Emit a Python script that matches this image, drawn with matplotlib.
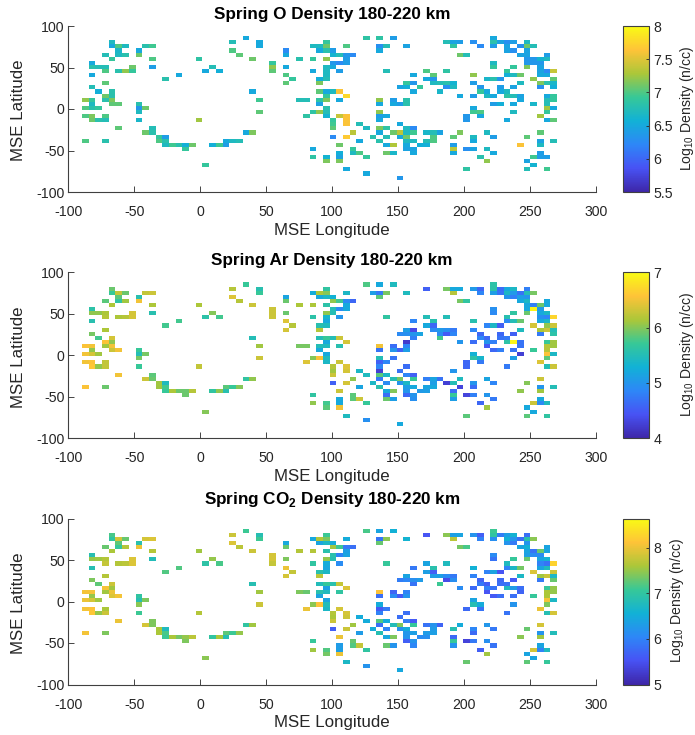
import numpy as np
import matplotlib
matplotlib.use('Agg')
import matplotlib.pyplot as plt
from matplotlib.colors import LinearSegmentedColormap

plt.rcParams['font.family'] = ['Liberation Sans', 'DejaVu Sans']
plt.rcParams['mathtext.fontset'] = 'custom'
plt.rcParams['mathtext.rm'] = 'Liberation Sans'
plt.rcParams['mathtext.bf'] = 'Liberation Sans:bold'
plt.rcParams['axes.unicode_minus'] = False

# {row: {column: log10 density}}, row -1 is the northernmost bin
o_density = {
    -1: {24: 6.5, 42: 6.85, 44: 6.85, 46: 6.4, 61: 6.5},
    0: {4: 6.7, 22: 6.75, 26: 6.5, 36: 6.9, 54: 6.75, 55: 6.45, 56: 6.4, 58: 6.3, 61: 6.8, 62: 6.45, 63: 6.3, 64: 6.4, 66: 6.7},
    1: {4: 6.5, 5: 7.0, 6: 6.7, 9: 6.8, 10: 6.95, 26: 6.5, 34: 6.7, 35: 6.7, 36: 7.1, 39: 7.0, 44: 6.3, 45: 6.75, 48: 6.45, 55: 6.85, 59: 6.25, 61: 6.4, 63: 6.45, 65: 6.3, 66: 7.1, 67: 6.75},
    2: {5: 6.65, 8: 6.5, 22: 7.0, 30: 6.25, 35: 6.5, 36: 6.8, 37: 6.4, 44: 6.5, 63: 6.45, 64: 6.3, 66: 6.45},
    3: {3: 6.75, 5: 6.7, 6: 6.8, 8: 7.1, 23: 7.05, 30: 6.5, 37: 6.6, 38: 6.75, 39: 6.35, 40: 6.25, 56: 7.1, 57: 6.75, 65: 6.45, 66: 6.45, 69: 6.4},
    4: {4: 6.9, 10: 7.0, 17: 6.85, 25: 7.1, 32: 6.8, 34: 6.9, 36: 7.2, 39: 6.4, 66: 6.35, 67: 6.35, 68: 6.6, 69: 6.7},
    5: {1: 6.5, 28: 6.9, 37: 6.35, 38: 6.25, 39: 6.4, 61: 6.7, 66: 6.35, 67: 6.35, 68: 6.35},
    6: {1: 6.8, 2: 6.75, 3: 6.75, 7: 7.1, 10: 6.4, 19: 6.75, 28: 7.2, 30: 6.5, 36: 6.7, 37: 6.5, 61: 6.9, 64: 6.9, 66: 7.15, 68: 6.45},
    7: {3: 7.0, 5: 6.8, 6: 7.2, 7: 6.9, 18: 6.5, 20: 6.55, 28: 7.05, 34: 6.5, 36: 6.7, 38: 6.4, 45: 6.75, 51: 7.0, 54: 6.85, 63: 6.9, 68: 6.45, 69: 6.25, 70: 7.4},
    8: {1: 6.5, 14: 6.5, 30: 7.0, 36: 6.7, 49: 6.5, 52: 7.05, 58: 7.2, 63: 6.55, 64: 6.7, 65: 7.1, 68: 6.5, 69: 6.5},
    9: {12: 6.8, 31: 6.9, 35: 6.55, 36: 6.75, 51: 6.5, 52: 6.35, 60: 6.65, 61: 6.8, 62: 6.35, 67: 7.2, 70: 7.05},
    10: {3: 7.05, 30: 7.05, 35: 7.15, 48: 6.9, 49: 6.35, 52: 6.7, 53: 6.75, 54: 6.8, 55: 6.6, 58: 6.4, 65: 6.7, 68: 7.15, 69: 6.8, 70: 6.65},
    11: {1: 6.75, 47: 6.45, 48: 6.55, 50: 6.9, 54: 6.3, 55: 6.7, 59: 6.35, 62: 6.4, 64: 6.45, 68: 6.3, 70: 6.55},
    12: {2: 6.55, 4: 6.8, 25: 6.5, 35: 7.05, 36: 6.5, 37: 6.7, 38: 7.62, 49: 6.5, 53: 6.65, 59: 6.9, 60: 6.5, 62: 6.5, 63: 6.7},
    13: {3: 7.1, 4: 6.8, 36: 6.9, 39: 7.78, 56: 6.5, 58: 6.4, 60: 6.7, 61: 6.5, 63: 6.85, 64: 6.75, 65: 6.45, 69: 6.5, 70: 6.9},
    14: {0: 7.2, 1: 6.9, 3: 6.8, 4: 7.15, 26: 6.95, 32: 6.75, 33: 6.75, 35: 6.85, 36: 7.15, 38: 6.5, 44: 7.2, 46: 6.4, 48: 6.8, 65: 6.5, 69: 6.75, 70: 6.9},
    15: {1: 6.7, 4: 7.05, 5: 7.05, 8: 6.8, 35: 6.45, 44: 6.5, 46: 6.5, 47: 6.4, 48: 6.8, 61: 6.4, 62: 6.55, 64: 6.5, 67: 6.65, 69: 6.75},
    16: {0: 7.0, 1: 6.8, 2: 6.9, 8: 6.35, 9: 7.1, 36: 6.8, 58: 6.5, 69: 7.25, 70: 6.5},
    17: {8: 6.7, 26: 7.05, 34: 6.85, 35: 7.2, 36: 6.75, 44: 7.2, 58: 6.95, 59: 7.0, 64: 6.7, 69: 6.9},
    18: {0: 7.0, 1: 7.15, 3: 7.0, 33: 6.85, 36: 6.6, 38: 7.4, 39: 7.62, 44: 6.4, 45: 6.5, 57: 6.35, 59: 6.5, 68: 7.25},
    19: {1: 7.1, 2: 6.8, 3: 6.75, 8: 6.65, 17: 7.25, 37: 6.9, 39: 7.62, 44: 6.5, 57: 6.35, 63: 6.5, 69: 6.5, 70: 7.05},
    20: {37: 6.95, 39: 7.62, 41: 6.75, 47: 6.5},
    21: {5: 7.05, 10: 6.75, 37: 7.05, 42: 6.7, 44: 7.15, 45: 6.85, 48: 6.7, 49: 6.25},
    22: {9: 7.1, 10: 6.8, 24: 6.5, 25: 7.15, 40: 7.35, 44: 6.5, 46: 7.1, 47: 7.35, 48: 6.7, 49: 6.95, 51: 6.65, 52: 6.75, 53: 6.45, 56: 7.15, 60: 6.7, 68: 7.05},
    23: {11: 6.9, 12: 6.4, 37: 6.25, 39: 7.68, 43: 6.8, 45: 6.75, 47: 6.5, 48: 7.1, 52: 7.0, 55: 7.05, 58: 6.7, 61: 6.4, 66: 7.05},
    24: {0: 7.0, 3: 6.8, 11: 7.0, 12: 6.8, 21: 6.5, 22: 6.7, 23: 6.75, 41: 6.5, 44: 6.8, 48: 6.7, 49: 6.7, 51: 6.75, 52: 7.0, 58: 6.5, 68: 6.45, 70: 6.75},
    25: {12: 6.7, 13: 6.95, 14: 6.8, 15: 6.55, 16: 7.1, 19: 6.55, 20: 6.95, 21: 6.4, 38: 7.1, 45: 6.5, 46: 7.3, 48: 6.5, 50: 6.55, 51: 6.55, 55: 6.4, 65: 7.62, 68: 6.7},
    26: {15: 6.9, 34: 6.5, 40: 6.9, 48: 6.45, 49: 6.45, 55: 7.35, 57: 6.3, 58: 6.45, 60: 6.7},
    27: {38: 6.55, 40: 6.7, 41: 7.0, 45: 7.1, 46: 6.65, 49: 6.5, 55: 6.5, 61: 6.5, 68: 6.4},
    28: {34: 6.85, 36: 6.6, 38: 6.45, 42: 6.9, 59: 6.8, 67: 6.95, 68: 6.4, 69: 6.4},
    29: {36: 7.15, 38: 7.15, 60: 7.2, 66: 6.45},
    30: {18: 6.9, 67: 6.6},
    31: {39: 6.5, 57: 6.85, 66: 6.75, 69: 6.95},
    32: {42: 6.5},
    33: {47: 6.35},
}

ar_density = {
    -1: {24: 5.7, 42: 5.8, 44: 5.2, 46: 5.45, 61: 5.6},
    0: {4: 5.9, 22: 6.2, 26: 5.55, 36: 5.65, 51: 4.55, 54: 5.95, 55: 5.2, 56: 5.2, 58: 5.05, 59: 4.6, 61: 5.6, 62: 4.65, 63: 5.2, 64: 5.4, 66: 4.8},
    1: {4: 5.7, 5: 6.25, 6: 5.9, 9: 6.25, 10: 6.3, 26: 5.7, 34: 5.25, 35: 6.15, 36: 6.0, 39: 5.4, 43: 5.1, 44: 4.75, 45: 5.95, 48: 5.45, 55: 6.2, 59: 4.85, 61: 5.1, 62: 4.7, 63: 5.4, 64: 5.05, 65: 4.7, 66: 5.5, 67: 5.95},
    2: {5: 5.85, 8: 5.55, 22: 6.4, 30: 5.15, 35: 5.2, 36: 5.4, 37: 5.3, 44: 5.85, 63: 5.0, 64: 4.8, 65: 5.1, 66: 5.0},
    3: {3: 5.85, 5: 5.65, 6: 6.1, 8: 6.5, 23: 6.2, 30: 5.9, 37: 6.05, 38: 5.75, 39: 4.9, 40: 4.6, 56: 5.95, 57: 5.65, 65: 5.2, 66: 5.4, 69: 5.2},
    4: {4: 6.15, 10: 6.15, 17: 6.15, 25: 6.3, 32: 6.15, 34: 6.15, 36: 5.6, 39: 5.2, 66: 5.2, 67: 4.8, 68: 5.9, 69: 5.2},
    5: {1: 5.6, 28: 6.3, 37: 5.5, 38: 4.9, 39: 5.2, 61: 4.95, 66: 5.2, 67: 6.95, 68: 5.05},
    6: {1: 6.05, 2: 6.05, 3: 6.15, 7: 6.35, 10: 5.55, 19: 6.0, 28: 6.3, 30: 5.9, 36: 6.05, 37: 5.5, 61: 4.9, 64: 5.65, 66: 5.9, 68: 5.2, 69: 5.4},
    7: {3: 6.2, 5: 6.15, 6: 6.2, 7: 6.35, 18: 5.6, 20: 5.75, 28: 6.3, 34: 5.6, 36: 5.35, 38: 5.0, 45: 5.65, 51: 5.5, 54: 5.5, 63: 5.55, 68: 4.95, 69: 4.85, 70: 6.7},
    8: {1: 5.55, 14: 5.75, 30: 6.4, 36: 5.2, 49: 4.85, 52: 5.55, 58: 5.55, 63: 4.9, 64: 5.5, 65: 5.9, 68: 5.2, 69: 5.4},
    9: {12: 5.75, 31: 6.2, 35: 5.55, 36: 5.45, 51: 5.2, 52: 4.6, 60: 4.85, 61: 5.4, 62: 4.55, 67: 6.35, 69: 6.05, 70: 6.3},
    10: {3: 6.15, 30: 6.35, 35: 6.2, 48: 5.1, 49: 4.35, 52: 4.9, 53: 5.05, 54: 4.95, 55: 4.75, 58: 4.85, 65: 5.45, 68: 6.15, 69: 6.3, 70: 5.5},
    11: {1: 5.95, 47: 4.9, 48: 4.95, 49: 5.0, 50: 5.15, 53: 4.9, 54: 4.5, 55: 4.85, 59: 4.6, 62: 4.6, 64: 4.55, 68: 4.75, 70: 5.6},
    12: {2: 5.75, 4: 6.35, 25: 5.5, 35: 5.5, 36: 5.7, 37: 5.5, 38: 6.3, 49: 4.8, 53: 5.75, 59: 4.85, 60: 4.6, 62: 4.7, 63: 4.75},
    13: {3: 6.55, 4: 6.05, 36: 5.2, 39: 6.35, 48: 4.2, 56: 5.0, 58: 4.65, 60: 5.0, 61: 4.8, 63: 5.6, 64: 6.95, 65: 4.7, 69: 5.7, 70: 6.1},
    14: {0: 6.55, 1: 6.5, 3: 6.1, 4: 6.5, 26: 6.1, 32: 5.95, 33: 5.95, 35: 5.5, 36: 5.45, 38: 5.55, 44: 6.5, 46: 4.65, 48: 4.85, 60: 4.5, 65: 4.7, 69: 6.2, 70: 6.1},
    15: {1: 6.05, 4: 6.3, 5: 6.5, 8: 5.7, 35: 5.2, 44: 4.7, 46: 5.0, 47: 4.55, 48: 5.1, 61: 4.6, 62: 4.8, 64: 4.7, 67: 5.7, 69: 6.2},
    16: {0: 6.5, 1: 6.35, 2: 6.1, 8: 5.5, 9: 5.95, 36: 5.2, 58: 5.3, 65: 4.25, 69: 6.55, 70: 5.4},
    17: {8: 5.95, 26: 6.3, 34: 6.0, 35: 6.55, 36: 5.45, 44: 5.5, 46: 4.7, 58: 5.6, 59: 5.35, 64: 5.1, 69: 5.85},
    18: {0: 6.5, 1: 6.55, 3: 6.25, 33: 6.4, 36: 5.4, 38: 6.3, 44: 4.55, 45: 4.85, 57: 4.6, 59: 4.75, 68: 6.4},
    19: {1: 6.6, 2: 6.05, 3: 6.25, 8: 5.7, 17: 6.25, 37: 6.2, 39: 6.4, 44: 4.85, 48: 4.65, 57: 4.6, 63: 4.75, 69: 5.5, 70: 6.3},
    20: {37: 6.1, 39: 6.35, 41: 5.4, 44: 4.25, 47: 4.7, 55: 5.0},
    21: {5: 6.5, 10: 5.85, 37: 6.3, 42: 5.45, 44: 5.85, 45: 5.4, 48: 4.85, 49: 4.55},
    22: {9: 6.3, 10: 5.9, 24: 5.65, 25: 6.05, 40: 6.05, 44: 4.75, 46: 5.5, 47: 5.95, 49: 5.7, 51: 4.8, 52: 5.15, 53: 4.7, 56: 5.45, 60: 5.15, 68: 6.3},
    23: {11: 6.1, 12: 5.45, 37: 4.55, 39: 6.35, 43: 5.4, 45: 4.9, 47: 5.0, 48: 5.4, 52: 5.1, 54: 4.25, 55: 5.5, 58: 5.0, 61: 4.85, 66: 6.0},
    24: {0: 6.55, 3: 5.9, 11: 6.1, 12: 5.75, 21: 5.85, 22: 5.7, 23: 6.0, 41: 5.15, 44: 5.55, 48: 5.1, 49: 5.2, 51: 5.15, 52: 5.2, 56: 4.3, 58: 4.65, 68: 5.0, 70: 5.5},
    25: {12: 5.7, 13: 6.15, 14: 5.9, 15: 5.9, 16: 6.2, 19: 5.65, 20: 6.05, 21: 5.55, 38: 6.3, 45: 5.2, 46: 6.0, 48: 5.0, 50: 5.05, 51: 5.1, 55: 4.65, 65: 6.05, 68: 6.1},
    26: {15: 5.9, 34: 5.65, 40: 5.85, 45: 4.65, 48: 4.6, 49: 5.0, 55: 5.7, 57: 4.3, 58: 4.8, 60: 5.0},
    27: {38: 5.2, 40: 5.85, 41: 6.3, 45: 5.9, 46: 5.1, 49: 4.95, 55: 5.1, 61: 4.75, 68: 5.2},
    28: {34: 6.05, 36: 5.75, 38: 5.2, 42: 5.7, 59: 4.6, 67: 6.3, 68: 4.9, 69: 5.45},
    29: {36: 5.85, 38: 6.5, 60: 6.1, 66: 5.2},
    30: {18: 6.0, 67: 5.2},
    31: {39: 5.45, 57: 5.85, 66: 5.85, 69: 5.65},
    32: {42: 4.95},
    33: {47: 5.2},
}

co2_density = {
    -1: {24: 7.1, 42: 7.15, 44: 6.4, 46: 6.55, 61: 7.1},
    0: {4: 7.15, 22: 7.8, 26: 6.85, 36: 7.1, 51: 5.55, 54: 7.45, 55: 6.35, 56: 6.4, 58: 6.2, 59: 5.65, 61: 7.0, 62: 5.95, 63: 6.35, 64: 6.6, 66: 5.8},
    1: {4: 7.0, 5: 7.85, 6: 7.3, 9: 7.85, 10: 7.9, 26: 7.1, 34: 6.45, 35: 7.65, 36: 7.4, 39: 6.5, 44: 5.85, 45: 7.45, 48: 6.6, 55: 7.7, 59: 6.0, 61: 6.15, 63: 6.55, 64: 6.2, 65: 5.8, 66: 6.9, 67: 7.45},
    2: {5: 7.25, 8: 6.9, 22: 7.9, 30: 6.45, 35: 6.4, 36: 6.7, 37: 6.5, 44: 7.3, 63: 6.2, 64: 5.9, 66: 6.2},
    3: {3: 7.3, 5: 7.05, 6: 7.65, 8: 8.0, 23: 7.7, 30: 7.3, 37: 7.55, 38: 7.1, 39: 5.9, 40: 5.8, 56: 7.35, 57: 7.15, 65: 6.4, 66: 6.55, 69: 6.4},
    4: {4: 7.6, 10: 7.65, 17: 7.55, 25: 7.8, 32: 7.65, 34: 7.65, 36: 6.9, 39: 6.35, 66: 6.4, 67: 5.85, 68: 7.3, 69: 6.4},
    5: {1: 6.85, 28: 7.85, 37: 6.9, 38: 6.0, 39: 6.4, 61: 6.1, 66: 6.35, 67: 6.1, 68: 6.1},
    6: {1: 7.5, 2: 7.55, 3: 7.65, 7: 7.9, 10: 6.8, 19: 7.5, 28: 7.85, 30: 7.4, 36: 7.5, 37: 6.85, 61: 5.85, 64: 7.05, 66: 7.3, 68: 6.4, 69: 6.6},
    7: {3: 7.75, 5: 7.65, 6: 7.7, 7: 7.9, 18: 6.95, 20: 7.15, 28: 7.75, 34: 7.0, 36: 6.5, 38: 6.1, 45: 7.05, 51: 6.4, 54: 6.75, 63: 6.75, 68: 6.0, 69: 5.85, 70: 8.25},
    8: {1: 6.85, 14: 7.2, 30: 8.0, 36: 6.45, 49: 5.9, 52: 6.9, 58: 6.55, 63: 6.0, 64: 6.7, 65: 7.35, 68: 6.4, 69: 6.75},
    9: {12: 7.2, 31: 7.75, 35: 6.9, 36: 6.7, 51: 6.35, 52: 5.65, 60: 6.0, 61: 6.4, 62: 5.55, 67: 7.9, 70: 7.8},
    10: {3: 7.65, 30: 7.85, 35: 7.7, 48: 6.4, 52: 6.3, 53: 6.35, 54: 6.1, 55: 5.9, 58: 6.0, 65: 6.7, 68: 7.55, 69: 7.8, 70: 6.7},
    11: {1: 7.4, 47: 5.95, 48: 6.05, 49: 6.15, 50: 6.3, 54: 5.45, 55: 6.15, 59: 5.7, 62: 5.75, 64: 5.6, 68: 5.9, 70: 7.3},
    12: {2: 7.25, 4: 7.8, 25: 6.85, 35: 6.8, 36: 7.05, 37: 6.9, 38: 7.75, 49: 5.85, 53: 7.1, 59: 5.9, 60: 5.65, 62: 5.8, 63: 5.85},
    13: {3: 8.05, 4: 7.55, 36: 6.35, 39: 7.9, 56: 6.1, 58: 5.75, 60: 6.0, 61: 5.85, 63: 6.75, 64: 6.3, 65: 5.8, 69: 7.05, 70: 7.5},
    14: {0: 8.05, 1: 8.05, 3: 7.55, 4: 8.0, 26: 7.55, 32: 7.4, 33: 7.3, 35: 6.9, 36: 6.75, 38: 7.0, 44: 8.1, 46: 5.7, 48: 6.0, 60: 5.55, 65: 5.7, 69: 7.6, 70: 7.5},
    15: {1: 7.5, 4: 7.9, 5: 8.05, 8: 7.0, 35: 6.4, 44: 5.8, 46: 6.1, 47: 5.6, 48: 6.2, 61: 5.6, 62: 5.8, 64: 5.8, 67: 7.05, 69: 7.6},
    16: {0: 8.0, 1: 7.85, 2: 7.55, 8: 6.85, 9: 7.4, 36: 6.4, 58: 6.4, 69: 8.05, 70: 6.7},
    17: {8: 7.45, 26: 7.8, 34: 7.45, 35: 8.1, 36: 6.8, 44: 6.5, 58: 6.85, 59: 6.5, 64: 6.2, 69: 7.4},
    18: {0: 8.05, 1: 8.1, 3: 7.6, 33: 8.0, 36: 6.7, 38: 7.85, 44: 5.6, 45: 5.9, 57: 5.75, 59: 5.85, 68: 8.0},
    19: {1: 8.15, 2: 7.5, 3: 7.8, 8: 7.1, 17: 7.65, 37: 7.65, 39: 7.85, 44: 6.0, 48: 5.8, 63: 5.85, 69: 6.85, 70: 7.85},
    20: {37: 7.6, 39: 7.8, 41: 6.5, 47: 5.8},
    21: {5: 8.0, 10: 7.4, 37: 7.8, 42: 6.5, 44: 7.2, 45: 6.5, 48: 5.95, 49: 5.6},
    22: {9: 7.85, 10: 7.4, 24: 7.0, 25: 7.55, 40: 7.55, 44: 5.8, 46: 6.8, 47: 7.4, 49: 7.05, 51: 5.85, 52: 6.2, 53: 5.7, 56: 6.5, 60: 6.25, 68: 7.85},
    23: {11: 7.6, 12: 6.75, 37: 5.65, 39: 7.8, 43: 6.5, 45: 6.0, 47: 6.2, 48: 6.5, 52: 6.3, 55: 6.85, 58: 6.05, 61: 5.9, 66: 7.3},
    24: {0: 8.05, 3: 7.4, 11: 7.6, 12: 7.15, 21: 7.25, 22: 7.1, 23: 7.5, 41: 6.3, 44: 6.85, 48: 6.25, 49: 6.35, 51: 6.3, 52: 6.35, 58: 5.75, 68: 6.2, 70: 6.8},
    25: {12: 7.1, 13: 7.6, 14: 7.35, 15: 7.5, 16: 7.7, 19: 7.0, 20: 7.6, 21: 6.85, 38: 8.0, 45: 6.45, 46: 7.4, 48: 6.2, 50: 6.1, 51: 6.15, 55: 5.75, 65: 7.45, 68: 7.55},
    26: {15: 7.4, 34: 7.05, 40: 7.3, 48: 5.65, 49: 6.2, 55: 7.05, 57: 5.35, 58: 5.9, 60: 6.15},
    27: {38: 6.3, 40: 7.2, 41: 7.75, 45: 7.3, 46: 6.2, 49: 6.05, 55: 6.2, 61: 5.85, 68: 6.4},
    28: {34: 7.55, 36: 7.2, 38: 6.35, 42: 7.0, 59: 5.65, 67: 7.85, 68: 6.0, 69: 6.75},
    29: {36: 7.35, 38: 8.0, 60: 7.55, 66: 6.4},
    30: {18: 7.45, 67: 6.4},
    31: {39: 6.7, 57: 7.3, 66: 7.25, 69: 7.05},
    32: {42: 6.2},
    33: {47: 6.45},
}

titles = ['Spring O Density 180-220 km', 'Spring Ar Density 180-220 km',
          r'Spring CO$_\mathbf{2}$ Density 180-220 km']
color_limits = [(5.5, 8), (4, 7), (5, 8.64)]
color_ticks = [[5.5, 6, 6.5, 7, 7.5, 8], [4, 5, 6, 7], [5, 6, 7, 8]]
color_tick_labels = [['5.5', '6', '6.5', '7', '7.5', '8'], ['4', '5', '6', '7'], ['5', '6', '7', '8']]
x_ticks = [-100, -50, 0, 50, 100, 150, 200, 250, 300]
y_ticks = [-100, -50, 0, 50, 100]

lon_edges = np.linspace(-89.5, 270.5, 72)
lat_edges = 87.79 - 4.94 * np.arange(36)

parula = LinearSegmentedColormap.from_list('parula', [
    (0.2422, 0.1504, 0.6603), (0.2810, 0.3228, 0.9579), (0.1786, 0.5289, 0.9682),
    (0.0689, 0.6948, 0.8394), (0.2161, 0.7843, 0.5923), (0.6720, 0.7793, 0.2227),
    (0.9970, 0.7659, 0.2199), (0.9769, 0.9839, 0.0805)], N=256)

W, H = 695, 735
INK = '#404040'


def px_axes(fig, left, top, right, bottom):
    return fig.add_axes([left / W, 1 - bottom / H, (right - left) / W, (bottom - top) / H])


def to_grid(cells):
    grid = np.full((len(lat_edges) - 1, len(lon_edges) - 1), np.nan)
    for row, columns in cells.items():
        for col, value in columns.items():
            grid[row + 1, col] = value
    return grid


fig = plt.figure(figsize=(W / 100, H / 100), dpi=100)
tops = [26, 272.3, 518.5]
label_x = [687, 687, 676.5]
title_pad = [5, 5.5, 10.5]

for i, cells in enumerate([o_density, ar_density, co2_density]):
    top = tops[i]
    ax = px_axes(fig, 68.1, top, 596.1, top + 166)
    vmin, vmax = color_limits[i]
    mesh = ax.pcolormesh(lon_edges, lat_edges, to_grid(cells), cmap=parula, vmin=vmin, vmax=vmax)
    ax.set_xlim(-100, 300)
    ax.set_ylim(-100, 100)
    ax.set_xticks(x_ticks)
    ax.set_yticks(y_ticks)
    ax.tick_params(direction='in', length=4, width=0.6, labelsize=10.2, colors='#262626', pad=2.5)
    ax.tick_params(axis='x', pad=9.5)
    ax.spines['top'].set_visible(False)
    ax.spines['right'].set_visible(False)
    ax.spines['left'].set_color(INK)
    ax.spines['bottom'].set_color(INK)
    ax.set_xlabel('MSE Longitude', fontsize=12.2, color='#262626', va='center')
    ax.xaxis.set_label_coords(0.5, -0.23)
    ax.set_ylabel('MSE Latitude', fontsize=12.2, color='#262626', va='center')
    ax.yaxis.set_label_coords(-0.094, 0.49)
    ax.set_title(titles[i], fontsize=12.3, fontweight='bold', pad=title_pad[i])

    cax = px_axes(fig, 622.7, top, 649.3, top + 166)
    bar = fig.colorbar(mesh, cax=cax)
    bar.set_ticks(color_ticks[i])
    bar.set_ticklabels(color_tick_labels[i])
    bar.ax.tick_params(direction='in', length=2.5, width=0.6, labelsize=10.2, colors='#262626', pad=3)
    bar.outline.set_edgecolor(INK)
    bar.outline.set_linewidth(0.8)
    fig.text(label_x[i] / W, 1 - (top + 82) / H, r'Log$_{10}$ Density (n/cc)', rotation=90,
             fontsize=10.1, color='#262626', ha='center', va='center')

fig.savefig('out.png', dpi=100)
